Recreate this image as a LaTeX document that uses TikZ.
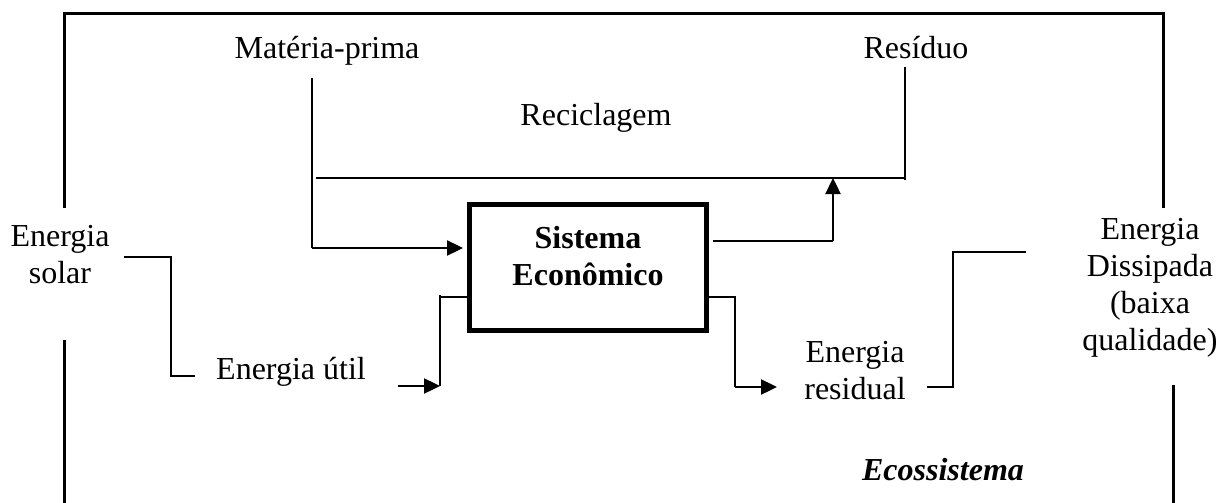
\documentclass[tikz,border=0pt]{standalone}
\usepackage{fontspec}
\setmainfont{Liberation Serif}
\usetikzlibrary{arrows.meta}
\begin{document}
\begin{tikzpicture}[x=0.5pt,y=-0.5pt,
  frame/.style={line width=1.5pt},
  thin/.style={line width=0.7pt},
  thick/.style={line width=1.2pt},
  arr/.style={thick,-{Triangle[length=8pt,width=7.5pt]}},
  lbl/.style={font=\fontsize{16}{18.5}\selectfont,inner sep=0pt,anchor=base,align=center},
  sysbox/.style={draw,line width=2.5pt,minimum width=118.5pt,minimum height=63pt,inner sep=0pt}]
\useasboundingbox (0,0) rectangle (1226,503);
% outer frame (ecosystem)
\draw[frame] (64,208) -- (64,13) -- (1163,13) -- (1163,208);
\draw[frame] (64,340) -- (64,503);
\draw[frame] (1173,385) -- (1173,503);
% labels
\node[lbl] (mp) at (327,58) {Matéria-prima};
\node[lbl] (res) at (916,58) {Resíduo};
\node[lbl] (rec) at (596,125) {Reciclagem};
\node[lbl] (sol) at (60,283) {Energia\\solar};
\node[lbl] (util) at (291,379) {Energia útil};
\node[lbl] (resid) at (855,399) {Energia\\residual};
\node[lbl] (diss) at (1150,350) {Energia\\Dissipada\\(baixa\\qualidade)};
\node[lbl,font=\fontsize{16}{18.5}\selectfont\bfseries\itshape] (eco) at (943,480) {Ecossistema};
% system box
\node[sysbox] (se) at (588,267.5) {};
\node[lbl,font=\fontsize{16}{18.5}\selectfont\bfseries] (setxt) at (588,285) {Sistema\\Econômico};
% coordinates
\coordinate (mp1) at (312,78);
\coordinate (mp2) at (312,248);
\coordinate (rc1) at (316,178);
\coordinate (rc2) at (906,178);
\coordinate (rs1) at (905,67);
\coordinate (rs2) at (905,180);
\coordinate (ro1) at (833,241);
\coordinate (ro2) at (833,178);
\coordinate (su1) at (124,257);
\coordinate (su2) at (171,257);
\coordinate (su3) at (171,376);
\coordinate (su4) at (195,376);
\coordinate (ua1) at (398,386);
\coordinate (ua2) at (440,386);
\coordinate (ub1) at (440,295);
\coordinate (ub2) at (440,297);
\coordinate (er1) at (735,297);
\coordinate (er2) at (735,387);
\coordinate (er3) at (777,387);
\coordinate (ed1) at (927,387);
\coordinate (ed2) at (953,387);
\coordinate (ed3) at (953,252);
\coordinate (ed4) at (1026,252);
% materia-prima into system
\draw[thin] (mp1) -- (mp2);
\draw[arr,shorten >=2pt] (mp2) -- (se.west |- mp2);
% recycling
\draw[thin] (rc1) -- (rc2);
\draw[thin] (rs1) -- (rs2);
\draw[thin,shorten <=2pt] (se.east |- ro1) -- (ro1);
\draw[arr] (ro1) -- (ro2);
% solar energy -> useful energy
\draw[thin] (su1) -- (su2) -- (su3) -- (su4);
\draw[arr] (ua1) -- (ua2);
\draw[thin] (ua2) -- (ub1);
\draw[thin] (ub2) -- (se.west |- ub2);
% residual energy
\draw[thin] (se.east |- er1) -- (er1) -- (er2);
\draw[arr] (er2) -- (er3);
\draw[thin] (ed1) -- (ed2) -- (ed3) -- (ed4);
\end{tikzpicture}
\end{document}
